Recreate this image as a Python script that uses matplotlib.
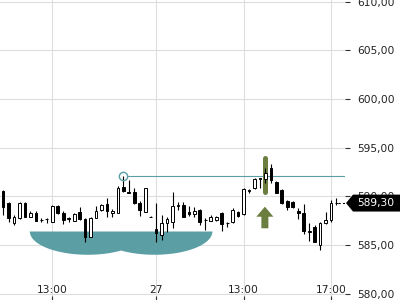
import numpy as np
import matplotlib
matplotlib.use('Agg')
import matplotlib.pyplot as plt
from matplotlib.patches import Rectangle, Polygon, FancyArrow
from matplotlib import transforms

# 15 min candles
opens = [590.54, 589.31, 587.23, 587.74, 589.34, 587.90, 588.31, 587.56, 587.63, 587.39,
         589.00, 588.31, 587.69, 587.49, 588.42, 587.64, 585.85, 587.80, 588.59, 589.21,
         588.25, 588.31, 590.99, 590.45, 590.41, 589.34, 588.42, 587.92, 586.64, 586.02,
         587.29, 587.39, 589.00, 589.11, 588.34, 588.18, 588.59, 587.54, 587.49, 587.56,
         588.25, 587.26, 587.33, 588.42, 588.15, 590.55, 590.82, 591.80, 591.75, 592.88,
         591.50, 590.65, 589.55, 589.41, 588.49, 588.28, 586.28, 586.84, 584.99, 587.23,
         587.51, 589.28]
highs = [590.65, 589.41, 588.08, 589.41, 589.45, 588.52, 588.49, 587.77, 587.80, 589.11,
         589.11, 588.44, 587.90, 588.23, 588.93, 587.77, 587.82, 589.00, 589.21, 589.79,
         588.66, 591.09, 592.09, 591.68, 590.82, 589.47, 590.90, 587.95, 589.28, 588.08,
         587.90, 590.41, 589.38, 589.38, 589.03, 588.93, 588.69, 587.74, 588.08, 587.98,
         588.39, 587.39, 588.80, 588.49, 590.85, 590.75, 591.83, 591.85, 592.90, 593.32,
         591.60, 590.75, 589.62, 589.50, 588.80, 589.21, 587.23, 587.00, 587.36, 588.34,
         589.57, 589.79]
lows = [588.08, 587.36, 587.05, 587.67, 587.82, 587.82, 587.41, 587.36, 587.29, 587.31,
        588.15, 587.15, 587.33, 587.41, 587.56, 585.33, 585.77, 587.72, 588.49, 587.90,
        587.90, 588.23, 590.47, 590.34, 589.21, 588.01, 588.34, 587.85, 585.33, 585.51,
        586.36, 586.71, 588.59, 587.87, 588.01, 587.90, 587.05, 586.54, 587.41, 587.46,
        586.46, 586.81, 587.26, 587.92, 588.08, 590.31, 590.75, 590.82, 591.34, 591.34,
        590.30, 589.20, 588.59, 588.75, 587.67, 586.13, 585.45, 585.25, 584.48, 587.15,
        587.40, 589.11]
closes = [588.93, 587.77, 587.90, 589.28, 587.90, 588.31, 587.49, 587.60, 587.66, 589.00,
          588.25, 587.56, 587.72, 588.15, 587.64, 585.85, 587.74, 588.49, 589.11, 588.49,
          588.49, 590.82, 590.58, 590.34, 589.28, 588.59, 590.82, 587.88, 586.20, 587.23,
          587.64, 589.03, 589.06, 587.90, 588.18, 588.52, 587.36, 587.60, 587.90, 587.90,
          587.15, 587.29, 588.59, 587.98, 590.75, 590.60, 591.75, 591.83, 592.43, 591.68,
          590.37, 589.28, 588.87, 588.85, 588.25, 586.38, 586.45, 585.35, 587.29, 587.56,
          589.26, 589.30]

tick_pos = [9, 28, 44, 60]
tick_labels = ['13:00', '27', '13:00', '17:00']
price_ticks = [580, 585, 590, 595, 600, 605, 610]
last_price = 589.30
marker_idx = 22
marker_price = 592.10
signal_idx = 47.9

teal = '#5b9ea4'
olive = '#6b7d3f'

fig = plt.figure(figsize=(4, 3), dpi=100)
ax = fig.add_axes([0, 0, 345 / 400, 1])
x_lo, x_hi = -0.57, 62.56
ax.set_xlim(x_lo, x_hi)
ax.set_ylim(579.34, 610.17)

# two rounded lobes under the first day
xs = np.linspace(4.5, 38.5, 400)
depth = np.zeros_like(xs)
for c in (15.4, 27.6):
    r = 1 - ((xs - c) / 10.6) ** 2
    depth = np.maximum(depth, 2.39 * np.sqrt(np.clip(r, 0, None)))
ax.fill_between(xs, 586.43 - depth, 586.43, color=teal, lw=0, zorder=2)

# marker + level line
ax.hlines(marker_price, marker_idx + 0.75, x_hi, colors=teal, lw=0.8, zorder=2.5)
ax.plot(marker_idx, marker_price, 'o', ms=6, mfc='none', mec=teal, mew=1, zorder=5)

# signal highlight and arrow
ax.plot([signal_idx, signal_idx], [590.4, 593.9], lw=3.6, color=olive,
        solid_capstyle='round', zorder=2.6)
ax.add_patch(FancyArrow(signal_idx, 586.71, 0, 2.22, width=1.28, head_width=3.11,
                        head_length=1.03, length_includes_head=True,
                        color=olive, lw=0, zorder=2.6))

# candles
idx = np.arange(len(opens))
ax.vlines(idx, lows, highs, colors='black', lw=0.8, zorder=3)
w = 0.5
for i in idx:
    o, c = opens[i], closes[i]
    bottom = min(o, c)
    h = max(abs(c - o), 0.03)
    face = 'white' if c >= o else 'black'
    ax.add_patch(Rectangle((i - w / 2, bottom), w, h, facecolor=face,
                           edgecolor='black', lw=0.7, zorder=4))

ax.hlines(last_price, len(opens) - 0.7, x_hi, colors='black', lw=0.8,
          linestyles=(0, (2, 2)), zorder=3)

# axes cosmetics
ax.yaxis.tick_right()
ax.set_yticks(price_ticks, [f'{p:.2f}'.replace('.', ',') for p in price_ticks])
ax.set_xticks(tick_pos, tick_labels)
ax.tick_params(axis='y', direction='out', length=3.5, width=0.8, color='#333333',
               pad=5, labelsize=7.7, labelcolor='#222222')
ax.tick_params(axis='x', direction='in', length=3, width=0.8, color='#333333',
               pad=-11, labelsize=7.7, labelcolor='#222222')
ax.grid(True, color='#dddddd', lw=0.8)
ax.set_axisbelow(True)
for s in ax.spines.values():
    s.set_visible(False)

# last price tag
trans = transforms.blended_transform_factory(fig.transFigure, ax.transData)
hh = 0.87
tag = Polygon([(0.865, last_price), (0.8825, last_price + hh), (1.0, last_price + hh),
               (1.0, last_price - hh), (0.8825, last_price - hh)],
              closed=True, transform=trans, facecolor='black', edgecolor='none',
              clip_on=False, zorder=10)
fig.add_artist(tag)
fig.text(0.8925, last_price, f'{last_price:.2f}'.replace('.', ','), transform=trans,
         color='white', va='center', ha='left', fontsize=7.7, zorder=11)

# time labels get cut at the plot edge, like the original
fig.canvas.draw()
for t in ax.xaxis.get_major_ticks():
    t.label1.set_clip_box(ax.bbox)
    t.label1.set_clip_on(True)

fig.savefig('out.png', dpi=100)
